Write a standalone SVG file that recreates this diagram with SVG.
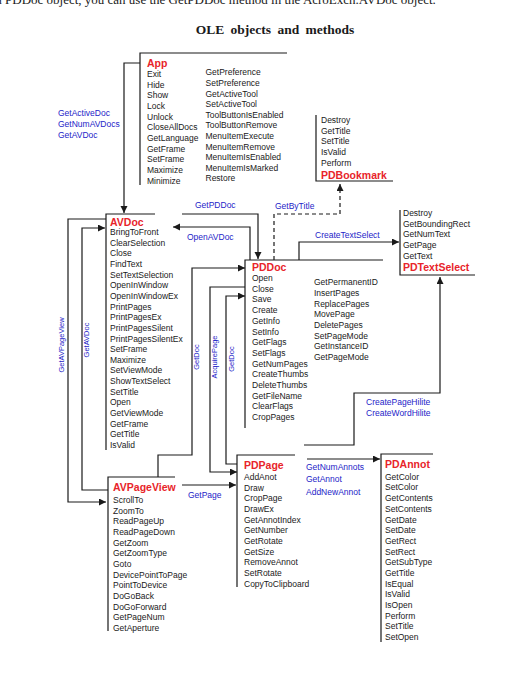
<svg xmlns="http://www.w3.org/2000/svg" width="522" height="697" viewBox="0 0 522 697">
<defs>
<marker id="arr" markerUnits="userSpaceOnUse" markerWidth="8" markerHeight="8" refX="7" refY="3.5" orient="auto"><path d="M0,0 L7,3.5 L0,7 z" fill="#1a1a1a"/></marker>
<style>
.ln{fill:none;stroke:#1a1a1a;stroke-width:1.2}
.it{font-family:"Liberation Sans",Arial,sans-serif;font-size:8.5px;fill:#1a1a1a}
.hd{font-family:"Liberation Sans",Arial,sans-serif;font-size:10.5px;font-weight:bold;fill:#e8242a}
.bl{font-family:"Liberation Sans",Arial,sans-serif;font-size:8.5px;fill:#2424c8}
.vb{font-family:"Liberation Sans",Arial,sans-serif;font-size:7.5px;fill:#2424c8;text-anchor:middle}
.cn{fill:none;stroke:#1a1a1a;stroke-width:1.2;marker-end:url(#arr)}
</style>
</defs>
<rect width="522" height="697" fill="#ffffff"/>
<text x="-4" y="3.5" font-family="Liberation Serif,serif" font-size="13" fill="#1a1a1a">a PDDoc object, you can use the GetPDDoc method in the AcroExch.AVDoc object.</text>
<text x="275" y="34" font-family="Liberation Serif,serif" font-size="13.5" font-weight="bold" fill="#1a1a1a" text-anchor="middle" word-spacing="3">OLE objects and methods</text>

<g id="connectors">
<path class="cn" d="M140,63 H124 V213"/>
<path class="cn" d="M182,214 H258 V259"/>
<path class="cn" d="M250,260 V227 H173"/>
<path class="cn" d="M274,260 V214 H340 V184" stroke-width="2" stroke-dasharray="4,3"/>
<path class="cn" d="M299,260 V242 H399"/>
<path class="cn" d="M106,219 H68 V502 H106"/>
<path class="cn" d="M108,490 H82 V228 H105"/>
<path class="cn" d="M158,477 V455 H192 V268 H245"/>
<path class="cn" d="M245,287 H210 V472 H237"/>
<path class="cn" d="M237,464 H226 V296 H245"/>
<path class="cn" d="M182,485 H236"/>
<path class="cn" d="M307,459 H380"/>
<path class="cn" d="M304,445 H354 V393 H440 V277"/>
<text class="bl" x="58" y="116">GetActiveDoc</text>
<text class="bl" x="58" y="127">GetNumAVDocs</text>
<text class="bl" x="58" y="138">GetAVDoc</text>
<text class="bl" x="195" y="208">GetPDDoc</text>
<text class="bl" x="187" y="240">OpenAVDoc</text>
<text class="bl" x="275" y="209">GetByTitle</text>
<text class="bl" x="315" y="238">CreateTextSelect</text>
<text class="bl" x="188" y="498">GetPage</text>
<text class="bl" x="366" y="405">CreatePageHilite</text>
<text class="bl" x="366" y="416">CreateWordHilite</text>
<text class="bl" x="306" y="469.7">GetNumAnnots</text>
<text class="bl" x="306" y="482">GetAnnot</text>
<text class="bl" x="306" y="494.7">AddNewAnnot</text>
<text class="vb" transform="translate(64,345) rotate(-90)">GetAVPageView</text>
<text class="vb" transform="translate(89,340) rotate(-90)">GetAVDoc</text>
<text class="vb" transform="translate(198.5,357) rotate(-90)">GetDoc</text>
<text class="vb" transform="translate(216.5,357) rotate(-90)">AcquirePage</text>
<text class="vb" transform="translate(234,359) rotate(-90)">GetDoc</text>
</g>

<g id="App">
<path class="ln" d="M287,53 H140 V185"/>
<text class="hd" x="147" y="67" font-size="11">App</text>
<text class="it" x="147" y="77">Exit</text>
<text class="it" x="147" y="87.7">Hide</text>
<text class="it" x="147" y="98.3">Show</text>
<text class="it" x="147" y="109">Lock</text>
<text class="it" x="147" y="119.7">Unlock</text>
<text class="it" x="147" y="130.3">CloseAllDocs</text>
<text class="it" x="147" y="141">GetLanguage</text>
<text class="it" x="147" y="151.7">GetFrame</text>
<text class="it" x="147" y="162.3">SetFrame</text>
<text class="it" x="147" y="173">Maximize</text>
<text class="it" x="147" y="183.7">Minimize</text>
<text class="it" x="205.5" y="75.3">GetPreference</text>
<text class="it" x="205.5" y="85.9">SetPreference</text>
<text class="it" x="205.5" y="96.5">GetActiveTool</text>
<text class="it" x="205.5" y="107.1">SetActiveTool</text>
<text class="it" x="205.5" y="117.7">ToolButtonIsEnabled</text>
<text class="it" x="205.5" y="128.3">ToolButtonRemove</text>
<text class="it" x="205.5" y="138.9">MenuItemExecute</text>
<text class="it" x="205.5" y="149.5">MenuItemRemove</text>
<text class="it" x="205.5" y="160.1">MenuItemIsEnabled</text>
<text class="it" x="205.5" y="170.7">MenuItemIsMarked</text>
<text class="it" x="205.5" y="181.3">Restore</text>
</g>

<g id="PDBookmark">
<path class="ln" d="M316,115 V181 H393"/>
<text class="it" x="321" y="123">Destroy</text>
<text class="it" x="321" y="133.7">GetTitle</text>
<text class="it" x="321" y="144.3">SetTitle</text>
<text class="it" x="321" y="155">IsValid</text>
<text class="it" x="321" y="165.7">Perform</text>
<text class="hd" x="321" y="179">PDBookmark</text>
</g>

<g id="PDTextSelect">
<path class="ln" d="M400,210 V275 H475"/>
<text class="it" x="403" y="216">Destroy</text>
<text class="it" x="403" y="226.7">GetBoundingRect</text>
<text class="it" x="403" y="237.3">GetNumText</text>
<text class="it" x="403" y="248">GetPage</text>
<text class="it" x="403" y="258.7">GetText</text>
<text class="hd" x="403" y="271">PDTextSelect</text>
</g>

<g id="AVDoc">
<path class="ln" d="M155,214 H106 V450"/>
<text class="hd" x="110" y="226">AVDoc</text>
<text class="it" x="110" y="235">BringToFront</text>
<text class="it" x="110" y="245.65">ClearSelection</text>
<text class="it" x="110" y="256.3">Close</text>
<text class="it" x="110" y="266.95">FindText</text>
<text class="it" x="110" y="277.6">SetTextSelection</text>
<text class="it" x="110" y="288.25">OpenInWindow</text>
<text class="it" x="110" y="298.9">OpenInWindowEx</text>
<text class="it" x="110" y="309.55">PrintPages</text>
<text class="it" x="110" y="320.2">PrintPagesEx</text>
<text class="it" x="110" y="330.85">PrintPagesSilent</text>
<text class="it" x="110" y="341.5">PrintPagesSilentEx</text>
<text class="it" x="110" y="352.15">SetFrame</text>
<text class="it" x="110" y="362.8">Maximize</text>
<text class="it" x="110" y="373.45">SetViewMode</text>
<text class="it" x="110" y="384.1">ShowTextSelect</text>
<text class="it" x="110" y="394.75">SetTitle</text>
<text class="it" x="110" y="405.4">Open</text>
<text class="it" x="110" y="416.05">GetViewMode</text>
<text class="it" x="110" y="426.7">GetFrame</text>
<text class="it" x="110" y="437.35">GetTitle</text>
<text class="it" x="110" y="448">IsValid</text>
</g>

<g id="PDDoc">
<path class="ln" d="M383,260 H245 V428"/>
<text class="hd" x="252" y="271">PDDoc</text>
<text class="it" x="252" y="281">Open</text>
<text class="it" x="252" y="291.7">Close</text>
<text class="it" x="252" y="302.4">Save</text>
<text class="it" x="252" y="313.1">Create</text>
<text class="it" x="252" y="323.8">GetInfo</text>
<text class="it" x="252" y="334.5">SetInfo</text>
<text class="it" x="252" y="345.1">GetFlags</text>
<text class="it" x="252" y="355.8">SetFlags</text>
<text class="it" x="252" y="366.5">GetNumPages</text>
<text class="it" x="252" y="377.2">CreateThumbs</text>
<text class="it" x="252" y="387.9">DeleteThumbs</text>
<text class="it" x="252" y="398.6">GetFileName</text>
<text class="it" x="252" y="409.3">ClearFlags</text>
<text class="it" x="252" y="420">CropPages</text>
<text class="it" x="314" y="285.3">GetPermanentID</text>
<text class="it" x="314" y="296">InsertPages</text>
<text class="it" x="314" y="306.6">ReplacePages</text>
<text class="it" x="314" y="317.3">MovePage</text>
<text class="it" x="314" y="328">DeletePages</text>
<text class="it" x="314" y="338.6">SetPageMode</text>
<text class="it" x="314" y="349.3">GetInstanceID</text>
<text class="it" x="314" y="360">GetPageMode</text>
</g>

<g id="AVPageView">
<path class="ln" d="M175,477 H108 V631"/>
<text class="hd" x="113" y="490.7">AVPageView</text>
<text class="it" x="113" y="503">ScrollTo</text>
<text class="it" x="113" y="513.7">ZoomTo</text>
<text class="it" x="113" y="524.3">ReadPageUp</text>
<text class="it" x="113" y="535">ReadPageDown</text>
<text class="it" x="113" y="545.7">GetZoom</text>
<text class="it" x="113" y="556.3">GetZoomType</text>
<text class="it" x="113" y="567">Goto</text>
<text class="it" x="113" y="577.7">DevicePointToPage</text>
<text class="it" x="113" y="588.3">PointToDevice</text>
<text class="it" x="113" y="599">DoGoBack</text>
<text class="it" x="113" y="609.7">DoGoForward</text>
<text class="it" x="113" y="620.3">GetPageNum</text>
<text class="it" x="113" y="631">GetAperture</text>
</g>

<g id="PDPage">
<path class="ln" d="M295,455 H237 V587"/>
<text class="hd" x="244" y="468.5">PDPage</text>
<text class="it" x="244" y="480">AddAnot</text>
<text class="it" x="244" y="490.7">Draw</text>
<text class="it" x="244" y="501.3">CropPage</text>
<text class="it" x="244" y="512">DrawEx</text>
<text class="it" x="244" y="522.7">GetAnnotIndex</text>
<text class="it" x="244" y="533.3">GetNumber</text>
<text class="it" x="244" y="544">GetRotate</text>
<text class="it" x="244" y="554.7">GetSize</text>
<text class="it" x="244" y="565.3">RemoveAnnot</text>
<text class="it" x="244" y="576">SetRotate</text>
<text class="it" x="244" y="586.7">CopyToClipboard</text>
</g>

<g id="PDAnnot">
<path class="ln" d="M433,454 H381 V642"/>
<text class="hd" x="385" y="467.5">PDAnnot</text>
<text class="it" x="385" y="479.7">GetColor</text>
<text class="it" x="385" y="490.4">SetColor</text>
<text class="it" x="385" y="501.1">GetContents</text>
<text class="it" x="385" y="511.8">SetContents</text>
<text class="it" x="385" y="522.5">GetDate</text>
<text class="it" x="385" y="533.2">SetDate</text>
<text class="it" x="385" y="543.8">GetRect</text>
<text class="it" x="385" y="554.5">SetRect</text>
<text class="it" x="385" y="565.2">GetSubType</text>
<text class="it" x="385" y="575.9">GetTitle</text>
<text class="it" x="385" y="586.6">IsEqual</text>
<text class="it" x="385" y="597.3">IsValid</text>
<text class="it" x="385" y="608">IsOpen</text>
<text class="it" x="385" y="618.7">Perform</text>
<text class="it" x="385" y="629.3">SetTitle</text>
<text class="it" x="385" y="640">SetOpen</text>
</g>
</svg>
